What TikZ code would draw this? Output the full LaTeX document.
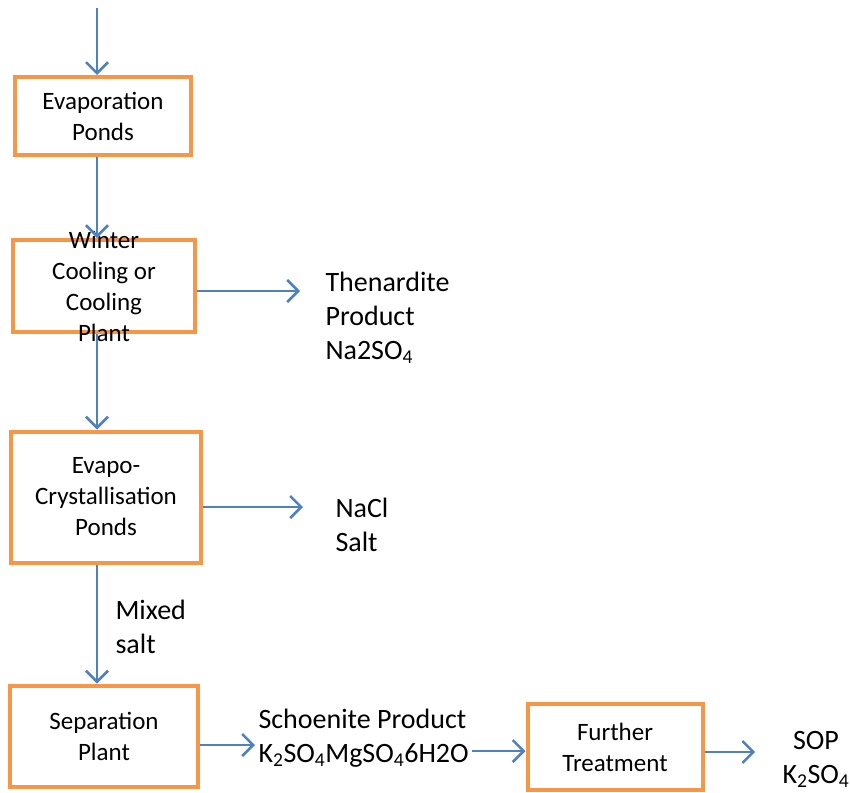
\documentclass[tikz,border=0pt]{standalone}
\usepackage{fontspec}
\setmainfont{Carlito}
\usetikzlibrary{arrows.meta}
\definecolor{box-orange}{RGB}{247,150,70}
\definecolor{flow-blue}{RGB}{79,129,189}

\begin{document}
\begin{tikzpicture}[x=1pt,y=-1pt,
		unit/.style={draw=box-orange,line width=4pt,align=center,font=\fontsize{25}{31}\selectfont},
		unit text/.style={align=center,font=\fontsize{25}{31}\selectfont},
		product/.style={align=left,font=\fontsize{28}{34}\selectfont},
		flow/.style={draw=flow-blue,line width=2.5pt,-{Straight Barb[length=11pt,width=22pt,line width=2.5pt]}}]
			\useasboundingbox (0,0) rectangle (850,792);

			\coordinate (in) at (97,8);
			\node[unit,minimum width=176pt,minimum height=78pt] (evap) at (103,116) {Evaporation\\Ponds};
			\node[unit,minimum width=182pt,minimum height=92pt,label={[unit text]center:Winter\\Cooling or\\Cooling\\Plant}] (cool) at (104,286) {};
			\node[unit,minimum width=190pt,minimum height=131pt] (cryst) at (106,497) {Evapo-\\Crystallisation\\Ponds};
			\node[unit,minimum width=188pt,minimum height=101pt] (sep) at (104,736) {Separation\\Plant};
			\node[unit,minimum width=175pt,minimum height=86pt] (further) at (615,747) {Further\\Treatment};

			\node[product,anchor=west] (then) at (322,318) {Thenardite\\Product\\Na2SO\textsubscript{4}};
			\node[product,anchor=west] (nacl) at (332,525) {NaCl\\Salt};
			\node[product,anchor=west] (mixed) at (112,627) {Mixed\\salt};
			\node[product,anchor=west] (scho) at (255,738) {Schoenite Product\\K\textsubscript{2}SO\textsubscript{4}MgSO\textsubscript{4}6H2O};
			\node[product,align=center] (sop) at (816,759) {SOP\\K\textsubscript{2}SO\textsubscript{4}};

			\draw[flow] (in) -- (evap.north -| in);
			\draw[flow] (evap.south -| in) -- (cool.north -| in);
			\draw[flow] (cool.south -| in) -- (cryst.north -| in);
			\draw[flow] (cryst.south -| in) -- (sep.north -| in);
			\draw[flow,shorten >=22pt] ([yshift=-5pt]cool.east) -- ([yshift=-5pt]cool.east -| then.west);
			\draw[flow,shorten >=29pt] ([yshift=-10pt]cryst.east) -- ([yshift=-10pt]cryst.east -| nacl.west);
			\draw[flow] ([yshift=-9pt]sep.east) -- ([yshift=-9pt]sep.east -| scho.west);
			\draw[flow] ([yshift=-4pt]further.west -| scho.east) -- ([yshift=-4pt]further.west);
			\draw[flow,shorten >=24pt] ([yshift=-5pt]further.east) -- ([yshift=-5pt]further.east -| sop.west);
		\end{tikzpicture}
\end{document}
